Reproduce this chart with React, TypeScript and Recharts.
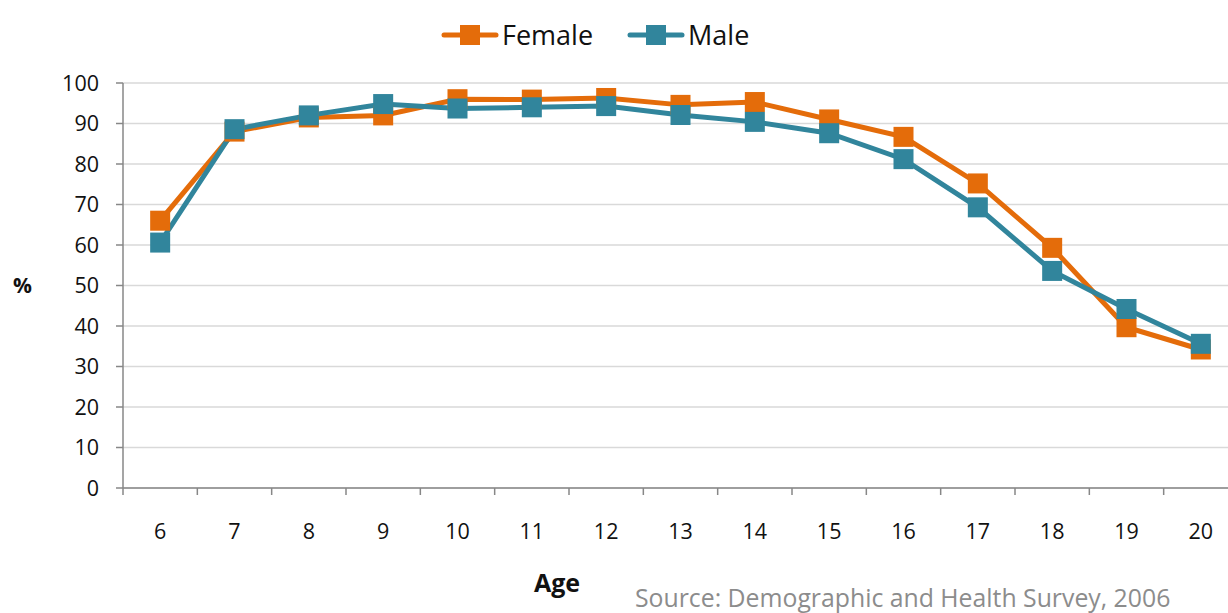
import { CartesianGrid, Line, LineChart, XAxis, YAxis } from "recharts";

const AGES = [6, 7, 8, 9, 10, 11, 12, 13, 14, 15, 16, 17, 18, 19, 20];
const FEMALE = [66, 88, 91.5, 92, 96, 95.9, 96.3, 94.6, 95.3, 91, 86.7, 75.2, 59.3, 39.7, 34.2];
const MALE = [60.6, 88.6, 92, 94.8, 93.7, 94, 94.3, 92.1, 90.4, 87.6, 81.2, 69.3, 53.6, 44.2, 35.6];
const Y_TICKS = [0, 10, 20, 30, 40, 50, 60, 70, 80, 90, 100];
// category boundaries get the small tick marks, category centres get the labels
const X_TICKS = [...AGES.map((a) => a - 0.5), ...AGES].sort((a, b) => a - b);

const ORANGE = "#E46C0A";
const TEAL = "#31859C";
const FONT = "'Open Sans', sans-serif";

const data = AGES.map((age, i) => ({ age, female: FEMALE[i], male: MALE[i] }));

function SquareDot(color: string) {
  return (props: any) => {
    const { cx, cy, index } = props;
    if (cx == null || cy == null) return <g key={index} />;
    return <rect key={index} x={cx - 10} y={cy - 10} width={20} height={20} fill={color} />;
  };
}

function AgeTick(props: any) {
  const { x, y, payload } = props;
  const v = payload.value as number;
  if (v % 1 !== 0) {
    return <line x1={x} x2={x} y1={y} y2={y + 7} stroke="#878787" strokeWidth={1.5} />;
  }
  return (
    <text x={x} y={y + 42} textAnchor="middle" dominantBaseline="central" fontSize={21.5} fill="#111" fontFamily={FONT}>
      {v}
    </text>
  );
}

function LegendBox() {
  const items = [
    { name: "Female", color: ORANGE },
    { name: "Male", color: TEAL },
  ];
  return (
    <div style={{ position: "absolute", left: 441, top: 20, display: "flex", gap: 34, fontFamily: FONT }}>
      {items.map((it) => (
        <div key={it.name} style={{ display: "flex", alignItems: "center", gap: 3 }}>
          <svg width={58} height={22}>
            <line x1={3} x2={55} y1={11} y2={11} stroke={it.color} strokeWidth={5} strokeLinecap="round" />
            <rect x={19} y={1} width={20} height={20} fill={it.color} />
          </svg>
          <span style={{ fontSize: 27, color: "#111", lineHeight: "30px" }}>{it.name}</span>
        </div>
      ))}
    </div>
  );
}

export default function App() {
  return (
    <div style={{ position: "fixed", left: 0, top: 0, width: 1228, height: 613, overflow: "hidden", background: "#fff" }}>
      <LineChart width={1240} height={613} data={data} margin={{ top: 83, right: 2, bottom: 0, left: 0 }}>
        <CartesianGrid vertical={false} stroke="#d9d9d9" strokeWidth={1.5} />
        <XAxis
          dataKey="age"
          type="number"
          domain={[5.5, 20.5]}
          ticks={X_TICKS}
          interval={0}
          tickSize={0}
          tickMargin={0}
          tick={<AgeTick />}
          tickLine={false}
          axisLine={{ stroke: "#878787", strokeWidth: 1.5 }}
          height={125}
        />
        <YAxis
          domain={[0, 100]}
          ticks={Y_TICKS}
          interval={0}
          width={123}
          tickSize={7}
          tickMargin={17}
          tickLine={{ stroke: "#878787", strokeWidth: 1.5 }}
          axisLine={{ stroke: "#878787", strokeWidth: 1.5 }}
          tick={{ fontSize: 21.5, fill: "#111", fontFamily: FONT }}
          label={{ value: "%", position: "insideLeft", offset: 13, fontSize: 21, fontWeight: 700, fill: "#111", fontFamily: FONT }}
        />
        <Line
          dataKey="female"
          name="Female"
          stroke={ORANGE}
          strokeWidth={5}
          dot={SquareDot(ORANGE)}
          activeDot={false}
          isAnimationActive={false}
        />
        <Line
          dataKey="male"
          name="Male"
          stroke={TEAL}
          strokeWidth={5}
          dot={SquareDot(TEAL)}
          activeDot={false}
          isAnimationActive={false}
        />
      </LineChart>
      <LegendBox />
      <div style={{ position: "absolute", left: 557, top: 582, transform: "translate(-50%, -50%)", fontFamily: FONT, fontWeight: 700, fontSize: 25, lineHeight: 1, color: "#111" }}>
        Age
      </div>
      <div style={{ position: "absolute", left: 635, top: 597, transform: "translateY(-50%)", fontFamily: FONT, fontSize: 24.8, lineHeight: 1, color: "#8c8c8c", whiteSpace: "nowrap" }}>
        Source: Demographic and Health Survey, 2006
      </div>
    </div>
  );
}
